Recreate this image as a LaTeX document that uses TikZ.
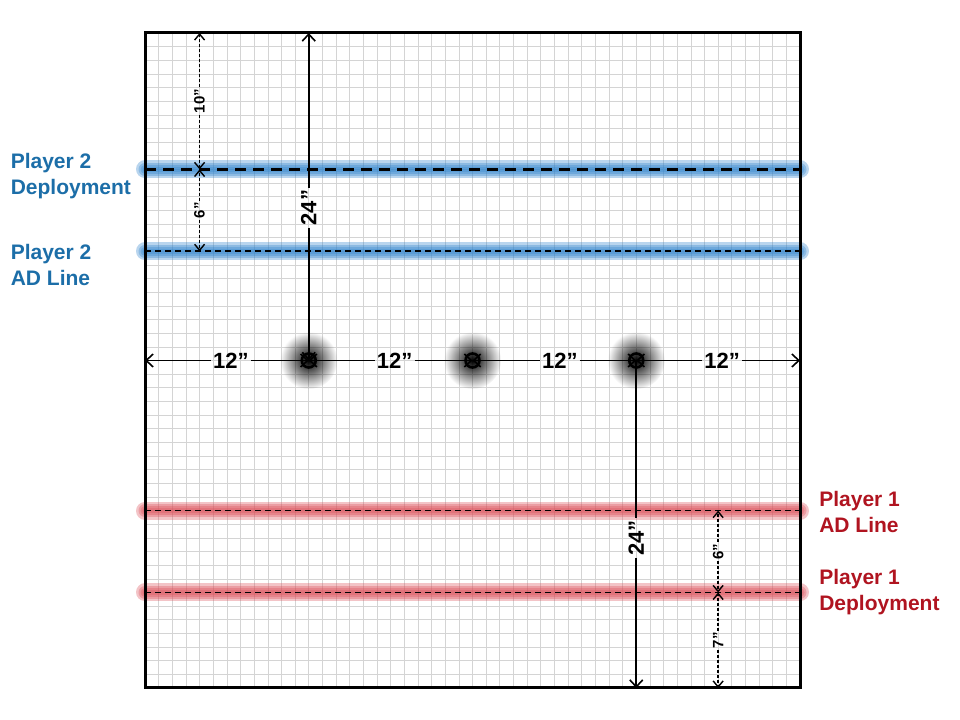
\documentclass[tikz,border=0pt]{standalone}
\usepackage{fontspec}
\setmainfont{Liberation Sans}
\usetikzlibrary{arrows.meta,fadings}
\definecolor{ptwo}{RGB}{28,110,168}
\definecolor{pone}{RGB}{176,20,32}
\definecolor{glowtwo}{RGB}{55,135,205}
\definecolor{glowone}{RGB}{220,85,95}
\tikzfading[name=objglow, inner color=transparent!0, outer color=transparent!100]
\begin{document}
\begin{tikzpicture}[x=13.646pt, y=13.646pt,
gridline/.style={black!17, line width=0.6pt},
board/.style={line width=3pt},
glowline/.style={line width=#1, opacity=0.35, line cap=round},
deploytwo/.style={line width=3pt, dash pattern=on 11pt off 7pt},
fieldline/.style={line width=1.8pt, dash pattern=on 6pt off 4pt},
dimtext/.style={font=\fontsize{22}{22}\bfseries\selectfont, inner sep=2pt},
smalltext/.style={font=\fontsize{15}{15}\bfseries\selectfont, inner sep=1.5pt},
dimarrow/.style={line width=1.6pt, -{Straight Barb[length=7pt,width=13pt]}},
smallarrow/.style={line width=1.4pt, dash pattern=on 3pt off 2pt, -{Straight Barb[length=6pt,width=10pt]}},
ring/.style={draw, circle, line width=2.6pt, minimum size=14pt, inner sep=0pt},
sidelabel/.style={font=\fontsize{21}{26}\bfseries\selectfont, align=left, anchor=west, inner sep=0pt}
]
\useasboundingbox (-10.626,-2.345) rectangle (59.725,50.418);
\draw[gridline, step={(1,1)}] (0,0) grid (48,48);

\foreach \n/\y in {p2dep/38, p2ad/32, p1ad/13, p1dep/7} {
  \coordinate (\n-w) at (0,\y);
  \coordinate (\n-e) at (48,\y);
}
\foreach \i/\x in {1/12, 2/24, 3/36}
  \coordinate (obj\i) at (\x,24);
\coordinate (edgew) at (0,24);
\coordinate (edgee) at (48,24);
\coordinate (top12) at (12,48);
\coordinate (bot36) at (36,0);
\coordinate (a10) at (4,48);
\coordinate (a6) at (4,38);
\coordinate (b6) at (4,32);
\coordinate (c6) at (42,13);
\coordinate (c7) at (42,7);
\coordinate (d7) at (42,0);

\foreach \n/\c in {p2dep/glowtwo, p2ad/glowtwo, p1ad/glowone, p1dep/glowone}
  \foreach \w in {18pt, 13pt, 9pt, 5pt}
    \draw[glowline=\w, \c] (\n-w) -- (\n-e);
\draw[deploytwo] (p2dep-w) -- (p2dep-e);
\draw[fieldline] (p2ad-w) -- (p2ad-e);
\draw[fieldline] (p1ad-w) -- (p1ad-e);
\draw[fieldline] (p1dep-w) -- (p1dep-e);

\foreach \i in {1,2,3}
  \fill[black, path fading=objglow] (obj\i) circle (2.1);

\node[dimtext] (h1) at (6.3,24) {12”};
\node[dimtext] (h2) at (18.3,24) {12”};
\node[dimtext] (h3) at (30.4,24) {12”};
\node[dimtext] (h4) at (42.3,24) {12”};
\draw[dimarrow] (h1) -- (edgew);
\draw[dimarrow] (h1) -- (obj1);
\draw[dimarrow] (h2) -- (obj1);
\draw[dimarrow] (h2) -- (obj2);
\draw[dimarrow] (h3) -- (obj2);
\draw[dimarrow] (h3) -- (obj3);
\draw[dimarrow] (h4) -- (obj3);
\draw[dimarrow] (h4) -- (edgee);

\node[dimtext, rotate=90] (v1) at (12,35.2) {24”};
\node[dimtext, rotate=90] (v2) at (36,11) {24”};
\draw[dimarrow] (v1) -- (top12);
\draw[dimarrow] (v1) -- (obj1);
\draw[dimarrow] (v2) -- (bot36);
\draw[-, line width=1.6pt] (v2) -- (obj3);

\node[smalltext, rotate=90] (s10) at (4,43) {10”};
\node[smalltext, rotate=90] (s6a) at (4,35) {6”};
\node[smalltext, rotate=90] (s6b) at (42,10) {6”};
\node[smalltext, rotate=90] (s7) at (42,3.5) {7”};
\draw[smallarrow] (s10) -- (a10);
\draw[smallarrow] (s10) -- (a6);
\draw[smallarrow] (s6a) -- (a6);
\draw[smallarrow] (s6a) -- (b6);
\draw[smallarrow] (s6b) -- (c6);
\draw[smallarrow] (s6b) -- (c7);
\draw[smallarrow] (s7) -- (c7);
\draw[smallarrow] (s7) -- (d7);

\foreach \i in {1,2,3}
  \node[ring] (ring\i) at (obj\i) {};

\draw[board] (0,0) rectangle (48,48);

\node[sidelabel, ptwo] (lblp2dep) at (-9.85,37.5) {Player 2\\Deployment};
\node[sidelabel, ptwo] (lblp2ad) at (-9.85,31.0) {Player 2\\AD Line};
\node[sidelabel, pone] (lblp1ad) at (49.4,12.9) {Player 1\\AD Line};
\node[sidelabel, pone] (lblp1dep) at (49.4,7.0) {Player 1\\Deployment};
\end{tikzpicture}
\end{document}
